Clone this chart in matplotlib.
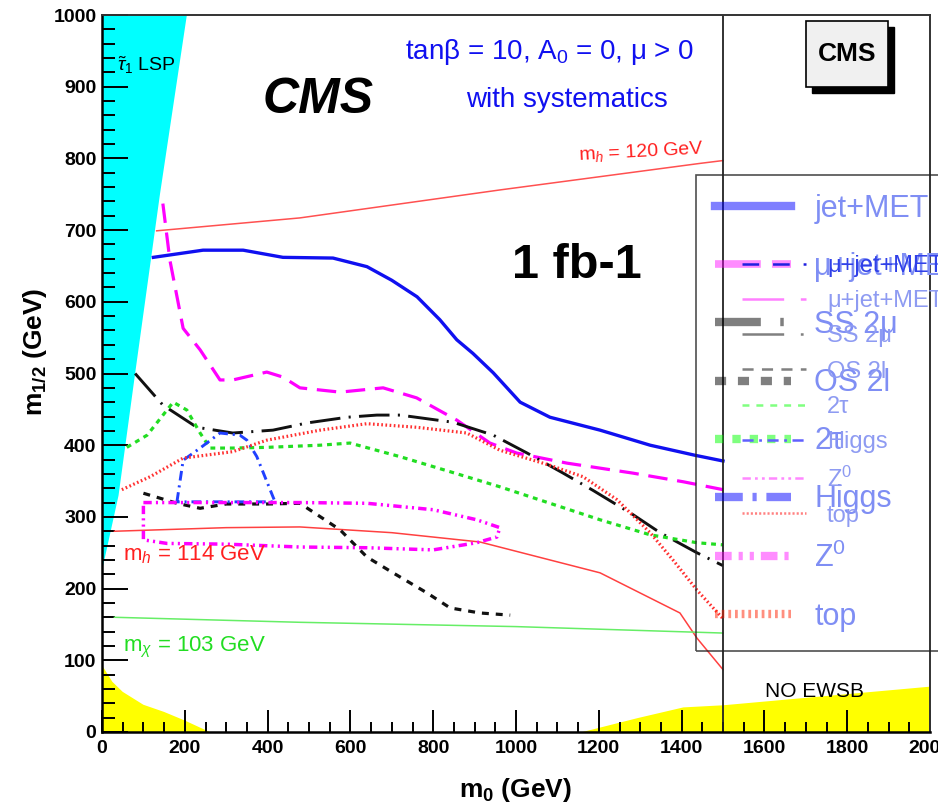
import matplotlib
matplotlib.use('Agg')
import matplotlib.pyplot as plt
from matplotlib.lines import Line2D
from matplotlib.patches import Rectangle

plt.rcParams['font.family'] = ['Liberation Sans', 'DejaVu Sans']
plt.rcParams['mathtext.fontset'] = 'custom'
plt.rcParams['mathtext.rm'] = 'Liberation Sans'
plt.rcParams['mathtext.it'] = 'Liberation Sans:italic'
plt.rcParams['mathtext.bf'] = 'Liberation Sans:bold'
plt.rcParams['mathtext.sf'] = 'Liberation Sans'
plt.rcParams['lines.scale_dashes'] = False

# ---------------- data ----------------
lsp_m0 = [0, 40, 80, 140, 205, 0]
lsp_m12 = [225, 330, 500, 750, 1000, 1000]

ewsb_left_m0 = [0, 25, 50, 100, 150, 200, 260, 0]
ewsb_left_m12 = [93, 70, 56, 38, 28, 16, 0, 0]

ewsb_right_m0 = [1155, 1203, 1292, 1403, 1500, 2000]
ewsb_right_m12 = [0, 7, 20, 35, 38, 64]

mh120_m0 = [132, 478, 961, 1444, 1500]
mh120_m12 = [699, 717, 756, 793, 797]

mh114_m0 = [30, 300, 478, 700, 913, 1203, 1396, 1437, 1500]
mh114_m12 = [280, 285, 286, 278, 265, 222, 166, 131, 87]

mchi_m0 = [30, 478, 1000, 1500]
mchi_m12 = [160, 153, 147, 138]

jetmet_m0 = [124, 244, 341, 437, 558, 640, 700, 761, 816, 857, 896, 945, 1010,
             1082, 1203, 1324, 1432, 1500]
jetmet_m12 = [662, 672, 672, 662, 661, 649, 630, 607, 575, 547, 528, 501, 460,
              439, 421, 400, 386, 378]

mujet_m0 = [147, 164, 196, 237, 285, 316, 398, 437, 478, 575, 679, 760, 857,
            937, 1002, 1123, 1283, 1404, 1500]
mujet_m12 = [737, 658, 563, 533, 491, 491, 502, 495, 480, 474, 480, 466, 435,
             403, 389, 375, 361, 349, 338]

ss2mu_m0 = [80, 147, 229, 316, 413, 495, 592, 664, 720, 848, 945, 1027, 1114,
            1186, 1283, 1348, 1437, 1500]
ss2mu_m12 = [500, 456, 425, 417, 421, 431, 439, 442, 442, 432, 414, 389, 361,
             337, 303, 278, 250, 232]

os2l_m0 = [100, 181, 237, 300, 400, 478, 575, 640, 703, 785, 841, 913, 986]
os2l_m12 = [333, 319, 312, 318, 318, 319, 282, 244, 222, 194, 173, 166, 163]

tau2_m0 = [60, 109, 172, 205, 237, 261, 316, 398, 527, 599, 720, 841, 961,
           1082, 1203, 1324, 1437, 1500]
tau2_m12 = [397, 414, 460, 449, 417, 396, 396, 397, 400, 403, 384, 363, 342,
            319, 296, 275, 264, 261]

higgs_m0 = [181, 196, 237, 285, 333, 350, 374, 413, 418, 181]
higgs_m12 = [321, 379, 396, 417, 414, 407, 384, 328, 321, 321]

z0_m0 = [100, 300, 478, 640, 800, 905, 961, 954, 905, 800, 640, 478, 300, 157,
         100, 100]
z0_m12 = [320, 320, 320, 319, 310, 296, 285, 272, 264, 254, 257, 258, 262, 263,
          268, 320]

top_m0 = [48, 116, 196, 316, 398, 527, 640, 760, 881, 961, 1082, 1162, 1244,
          1324, 1379, 1437, 1500]
top_m12 = [338, 356, 382, 391, 407, 421, 430, 425, 417, 393, 372, 356, 324,
           278, 240, 198, 158]

x_ticks = [0, 200, 400, 600, 800, 1000, 1200, 1400, 1600, 1800, 2000]
y_ticks = [0, 100, 200, 300, 400, 500, 600, 700, 800, 900, 1000]

legend_labels = ['jet+MET', 'μ+jet+MET', 'SS 2μ', 'OS 2l',
                 '2τ', 'Higgs', r'Z$^0$', 'top']
legend2_labels = ['μ+jet+MET', 'μ+jet+MET', 'SS 2μ', 'OS 2l',
                  '2τ', 'Higgs', r'Z$^0$', 'top']

# ---------------- figure ----------------
W, H = 938, 809
fig = plt.figure(figsize=(W / 100, H / 100), dpi=100)
ax = fig.add_axes([102 / W, (H - 732) / H, (930 - 102) / W, (732 - 15) / H])
ax.set_xlim(0, 2000)
ax.set_ylim(0, 1000)

ax.fill(lsp_m0, lsp_m12, color='#00ffff', lw=0, zorder=1)
ax.fill(ewsb_left_m0, ewsb_left_m12, color='#ffff00', lw=0, zorder=1)
ax.fill_between(ewsb_right_m0, ewsb_right_m12, 0, color='#ffff00', lw=0, zorder=1)

ax.plot(mh120_m0, mh120_m12, color='#ff5050', lw=1.1, zorder=3)
ax.plot(mh114_m0, mh114_m12, color='#ff4040', lw=1.1, zorder=3)
ax.plot(mchi_m0, mchi_m12, color='#66ee66', lw=1.1, zorder=3)

styles = {
    'jet': dict(color='#1010f0', lw=2.4, ls='-'),
    'mu': dict(color='#ff00ff', lw=2.3, ls=(0, (14, 7))),
    'ss': dict(color='#111111', lw=2.1, ls=(0, (22, 6, 1.5, 6))),
    'os': dict(color='#111111', lw=2.3, ls=(0, (5, 5))),
    'tau': dict(color='#22dd22', lw=2.3, ls=(0, (3.5, 3.5))),
    'higgs': dict(color='#2040ff', lw=2.1, ls=(0, (7, 3.5, 1.5, 3.5))),
    'z0': dict(color='#ff00ff', lw=2.5, ls=(0, (6, 3, 1.5, 3, 1.5, 3))),
    'top': dict(color='#ff3030', lw=2.3, ls=(0, (1.2, 1.8))),
}
ax.plot(jetmet_m0, jetmet_m12, zorder=4, **styles['jet'])
ax.plot(mujet_m0, mujet_m12, zorder=4, **styles['mu'])
ax.plot(ss2mu_m0, ss2mu_m12, zorder=4, **styles['ss'])
ax.plot(os2l_m0, os2l_m12, zorder=4, **styles['os'])
ax.plot(tau2_m0, tau2_m12, zorder=4, **styles['tau'])
ax.plot(higgs_m0, higgs_m12, zorder=4, **styles['higgs'])
ax.plot(z0_m0, z0_m12, zorder=4, **styles['z0'])
ax.plot(top_m0, top_m12, zorder=4, **styles['top'])

ax.axvline(1500, color='#222222', lw=1.3, zorder=5)

# texts
ax.text(522, 881, 'CMS', fontsize=36, fontweight='bold', style='italic',
        ha='center', va='center', zorder=6)
ax.text(1147, 651, '1 fb-1', fontsize=35, fontweight='bold', ha='center',
        va='center', zorder=6)
ax.text(1082, 948, r'tanβ = 10, A$_0$ = 0, μ > 0', fontsize=20,
        color='#1010f0', ha='center', va='center', zorder=6)
ax.text(1124, 881, 'with systematics', fontsize=20, color='#1010f0',
        ha='center', va='center', zorder=6)
ax.text(1302, 810, r'm$_h$ = 120 GeV', fontsize=14, color='#ff2020',
        ha='center', va='center', rotation=3, zorder=6)
ax.text(51, 247, r'm$_h$ = 114 GeV', fontsize=16, color='#ff2020',
        ha='left', va='center', zorder=6)
ax.text(51, 118, r'm$_\chi$ = 103 GeV', fontsize=16, color='#22dd22',
        ha='left', va='center', zorder=6)
ax.text(36, 930, r'$\tilde{\tau}_1$ LSP', fontsize=14, color='black',
        ha='left', va='center', zorder=6)
ax.text(1722, 57, 'NO EWSB', fontsize=15, color='black', ha='center',
        va='center', zorder=6)

# CMS box with shadow
ax.add_patch(Rectangle((1714, 891), 198, 92, facecolor='black',
                       edgecolor='black', zorder=6, clip_on=False))
ax.add_patch(Rectangle((1700, 900), 198, 92, facecolor='#f0f0f0',
                       edgecolor='black', lw=1.2, zorder=7, clip_on=False))
ax.text(1799, 946, 'CMS', fontsize=19, fontweight='bold', ha='center',
        va='center', zorder=8)

# axes styling
ax.set_xticks(x_ticks)
ax.set_yticks(y_ticks)
ax.set_xticklabels([str(v) for v in x_ticks])
ax.set_yticklabels([str(v) for v in y_ticks])
ax.xaxis.set_minor_locator(matplotlib.ticker.MultipleLocator(50))
ax.yaxis.set_minor_locator(matplotlib.ticker.MultipleLocator(20))
ax.tick_params(axis='x', which='major', direction='in', length=15.5, width=1.4,
               labelsize=14, pad=6, top=False)
ax.tick_params(axis='x', which='minor', direction='in', length=7, width=1.4,
               top=False)
ax.tick_params(axis='y', which='major', direction='in', length=18.5, width=1.4,
               labelsize=14, pad=4, right=False)
ax.tick_params(axis='y', which='minor', direction='in', length=9.5, width=1.4,
               right=False)
for lab in ax.get_xticklabels() + ax.get_yticklabels():
    lab.set_fontweight('bold')
for side in ['left', 'bottom']:
    ax.spines[side].set_linewidth(1.8)
for side in ['top', 'right']:
    ax.spines[side].set_linewidth(1.4)
    ax.spines[side].set_color('#333333')
for s in ax.spines.values():
    s.set_zorder(9)

ax.set_xlabel(r'$\mathbf{m_0}$ (GeV)', fontsize=19, fontweight='bold')
ax.set_ylabel(r'$\mathbf{m_{1/2}}$ (GeV)', fontsize=19, fontweight='bold')
ax.xaxis.set_label_coords(0.5, -0.062)
ax.xaxis.label.set_va('top')
ax.yaxis.set_label_coords(-0.064, 0.53)

# legends
def big(lw, dashes, color, alpha):
    return Line2D([], [], color=color, lw=lw, ls=dashes, alpha=alpha)

h1 = [
    big(6, '-', '#0000ff', 0.5),
    big(5.5, (0, (33, 8)), '#ff00ff', 0.45),
    big(6, (0, (33, 14, 2.5, 14)), '#000000', 0.5),
    big(6, (0, (8, 8.5)), '#000000', 0.5),
    big(6, (0, (6, 6.5)), '#00ff00', 0.5),
    big(6, (0, (20, 7, 3, 7)), '#0000ff', 0.5),
    big(6, (0, (12, 5, 3, 5, 3, 5)), '#ff00ff', 0.45),
    big(6, (0, (2, 2.8)), '#ff2000', 0.5),
]
leg1 = ax.legend(h1, legend_labels, loc='upper left',
                 bbox_to_anchor=(696 / W, 1 - 175 / H),
                 bbox_transform=fig.transFigure, borderaxespad=0,
                 prop={'size': 22}, labelcolor='#7f8ef4',
                 frameon=True, fancybox=False, edgecolor='#222222',
                 facecolor='none', framealpha=None, handlelength=2.5,
                 handletextpad=0.75, borderpad=0.62, labelspacing=0.92)
leg1.get_frame().set_linewidth(1.2)
leg1.set_zorder(10)
ax.add_artist(leg1)

h2 = [
    Line2D([], [], color='#2020e0', lw=1.8, ls=(0, (12, 10))),
    Line2D([], [], color='#ff80ff', lw=1.8, ls=(0, (30, 12))),
    Line2D([], [], color='#808080', lw=1.8, ls=(0, (30, 12, 2, 12))),
    Line2D([], [], color='#808080', lw=1.8, ls=(0, (8, 6))),
    Line2D([], [], color='#80ff80', lw=1.8, ls=(0, (5, 5))),
    Line2D([], [], color='#6060ff', lw=1.8, ls=(0, (8, 4, 2, 4))),
    Line2D([], [], color='#ff88ff', lw=1.8, ls=(0, (6, 3, 2, 3, 2, 3))),
    Line2D([], [], color='#ff8080', lw=1.8, ls=(0, (1.5, 1.5))),
]
leg2 = ax.legend(h2, legend2_labels, loc='upper left',
                 bbox_to_anchor=(742 / W, 1 - 255 / H),
                 bbox_transform=fig.transFigure, borderaxespad=0,
                 prop={'size': 17}, frameon=False, handlelength=2.7,
                 handletextpad=0.9, borderpad=0, labelspacing=0.56,
                 labelcolor=['#3040e8'] + ['#8e9bf2'] * 7)
leg2.set_zorder(11)

fig.savefig('out.png', dpi=100)
